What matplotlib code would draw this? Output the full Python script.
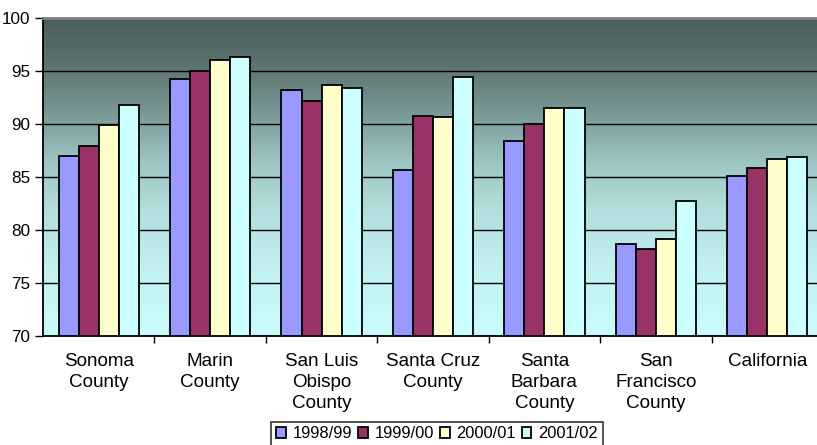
import numpy as np
import matplotlib.pyplot as plt
from matplotlib.colors import LinearSegmentedColormap

plt.rcParams['font.family'] = ['Liberation Sans', 'DejaVu Sans']

# Data
categories = ['Sonoma\nCounty', 'Marin\nCounty', 'San Luis\nObispo\nCounty',
              'Santa Cruz\nCounty', 'Santa\nBarbara\nCounty',
              'San\nFrancisco\nCounty', 'California']
years = ['1998/99', '1999/00', '2000/01', '2001/02']
v1998 = [87.0, 94.2, 93.2, 85.6, 88.4, 78.7, 85.1]
v1999 = [87.9, 95.0, 92.1, 90.7, 90.0, 78.2, 85.8]
v2000 = [89.9, 96.0, 93.6, 90.6, 91.5, 79.1, 86.7]
v2001 = [91.8, 96.3, 93.4, 94.4, 91.5, 82.7, 86.9]
yticks = [70, 75, 80, 85, 90, 95, 100]

series = [v1998, v1999, v2000, v2001]
colors = ['#9999FF', '#993366', '#FFFFCC', '#CCFFFF']

W, H = 817, 445
fig = plt.figure(figsize=(W / 100, H / 100), dpi=100)
ax = fig.add_axes([43 / W, (H - 336) / H, 780 / W, (336 - 17.5) / H])

# gradient background
grad = LinearSegmentedColormap.from_list(
    'bg', [(0.0, '#cafcfa'), (0.2, '#c2f2f0'), (0.4, '#b2dedc'),
           (0.55, '#9cc4c2'), (0.7, '#7a9896'), (0.85, '#5d7371'), (1.0, '#4a5d5b')])
ax.imshow(np.linspace(0, 1, 256).reshape(-1, 1), cmap=grad, origin='lower',
          extent=[-0.5, 6.5, 70, 100], aspect='auto', zorder=0)

x = np.arange(len(categories))
w = 0.18
for i, (vals, c, lab) in enumerate(zip(series, colors, years)):
    ax.bar(x + (i - 1.5) * w, vals, w, color=c, edgecolor='black',
           linewidth=1.3, label=lab, zorder=2)

ax.set_xlim(-0.5, 6.5)
ax.set_ylim(70, 100)
ax.set_yticks(yticks)
ax.yaxis.grid(True, color='black', linewidth=1.0, zorder=1)
ax.set_axisbelow(True)

ax.set_xticks(np.arange(0.5, 6.5, 1))
ax.set_xticklabels([])
ax.set_xticks(x, minor=True)
ax.set_xticklabels(categories, minor=True, fontsize=13.6, linespacing=1.32)
ax.tick_params(axis='x', which='major', length=5, width=1, direction='out')
ax.tick_params(axis='x', which='minor', length=0, pad=12)
ax.tick_params(axis='y', length=6, width=1, labelsize=12.3, pad=3)

ax.spines['top'].set_color('#808080')
ax.spines['top'].set_linewidth(2)
ax.spines['right'].set_visible(False)
ax.spines['left'].set_linewidth(1.3)
ax.spines['bottom'].set_linewidth(1.3)

leg = fig.legend(loc='upper center', bbox_to_anchor=(437 / W, (H - 421.5) / H),
                 ncol=4, fontsize=11.9, frameon=True, fancybox=False,
                 edgecolor='black', handlelength=0.6, handleheight=0.6,
                 handletextpad=0.4, columnspacing=0.35, borderpad=0.3,
                 borderaxespad=0)
leg.get_frame().set_linewidth(1.2)

fig.savefig('out.png', dpi=100)
